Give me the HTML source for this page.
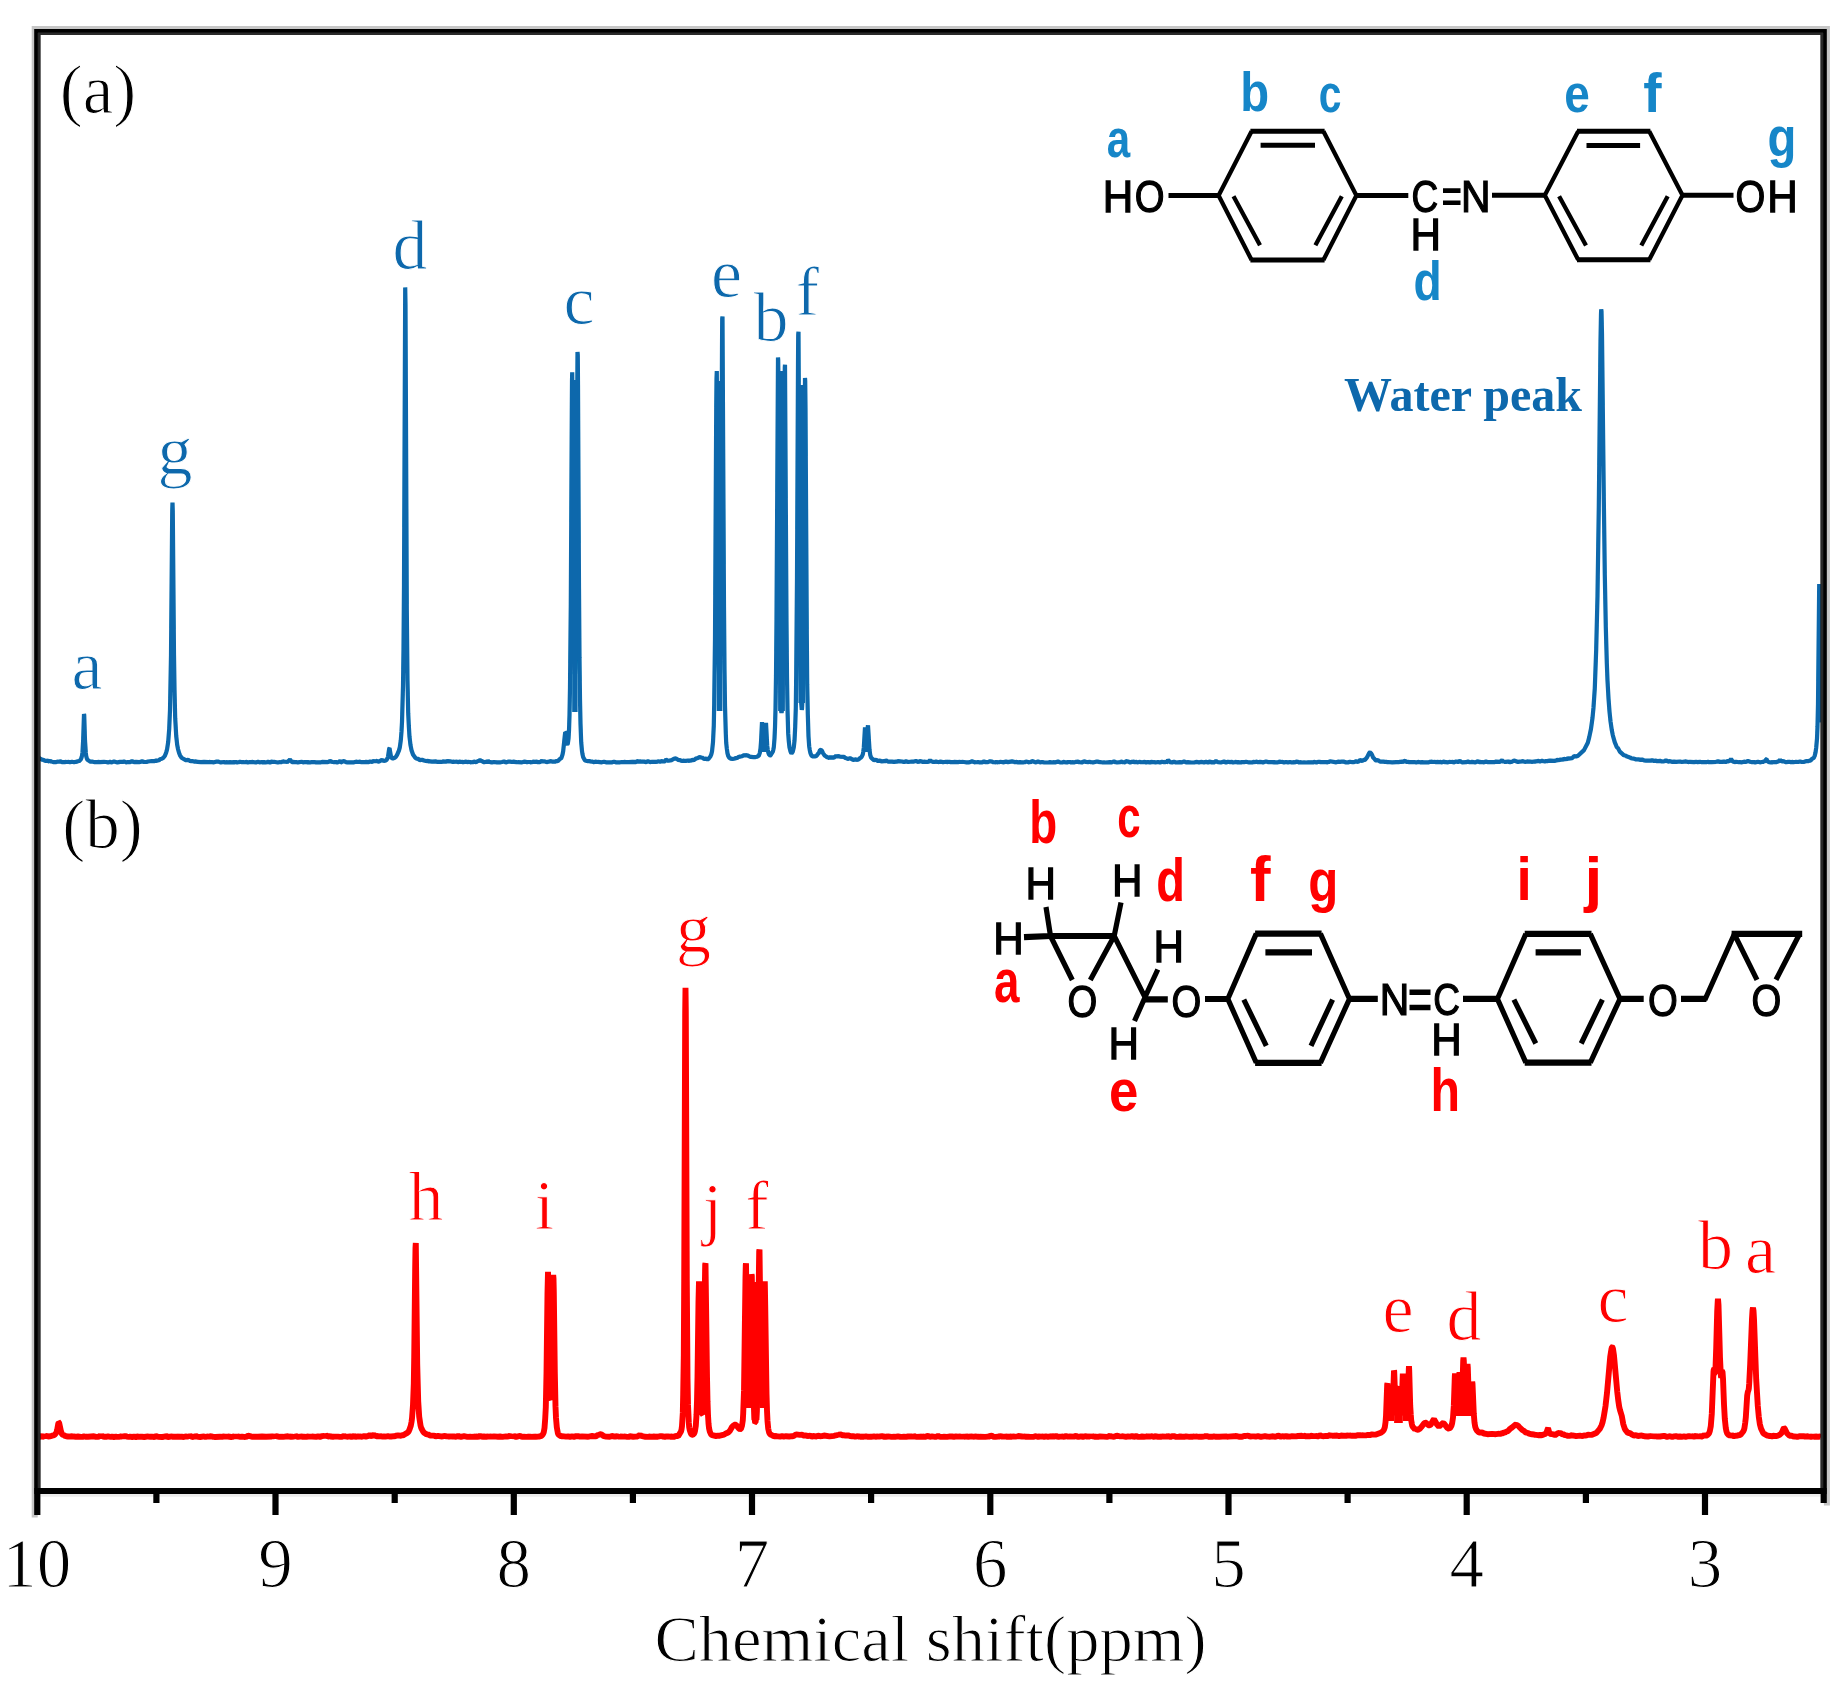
<!DOCTYPE html>
<html lang="en"><head><meta charset="utf-8"><title>1H NMR spectra</title>
<style>html,body{margin:0;padding:0;background:#fff}body{width:1847px;height:1689px;overflow:hidden}svg{display:block}.ser{font-family:"Liberation Serif",serif}.san{font-family:"Liberation Sans",sans-serif}</style></head><body>
<svg width="1847" height="1689" viewBox="0 0 1847 1689">
<rect width="1847" height="1689" fill="#fff"/>
<defs><filter id="soft" x="0" y="0" width="100%" height="100%" filterUnits="userSpaceOnUse"><feGaussianBlur stdDeviation="0.65"/></filter></defs>
<g filter="url(#soft)">
<path d="M38.0,756.5 L39.5,758.6 L40.0,758.5 L42.0,759.6 L44.0,760.0 L45.0,760.9 L46.0,760.7 L46.5,761.3 L48.0,760.2 L49.0,761.5 L49.2,761.6 L50.0,760.8 L51.5,761.9 L52.0,761.6 L53.2,762.1 L54.0,762.0 L56.2,762.2 L58.0,761.4 L58.8,762.3 L60.0,761.1 L62.0,762.2 L64.0,762.2 L64.5,762.4 L66.0,761.7 L67.0,762.4 L68.0,761.7 L70.0,762.3 L72.0,761.8 L74.0,762.2 L76.0,761.7 L76.8,761.9 L78.0,761.0 L79.0,761.3 L80.8,759.3 L81.5,757.7 L82.0,755.8 L82.5,752.2 L83.2,739.1 L84.0,714.0 L84.2,714.9 L85.0,740.5 L85.8,752.7 L86.2,756.1 L87.0,759.0 L87.5,759.8 L89.8,761.4 L90.2,761.6 L92.0,761.5 L94.8,762.2 L96.0,762.0 L97.0,762.3 L98.0,761.9 L100.0,762.1 L104.0,761.9 L106.0,762.0 L108.0,762.4 L110.0,761.8 L111.8,762.4 L114.0,761.4 L117.5,762.4 L120.0,761.9 L122.0,761.9 L122.5,762.3 L124.0,761.4 L126.0,762.3 L128.0,762.0 L129.5,762.3 L130.0,762.2 L132.0,761.1 L134.0,762.2 L136.0,761.9 L139.0,762.2 L142.0,761.4 L144.0,761.9 L146.5,762.0 L148.0,761.5 L152.0,761.0 L154.0,761.2 L156.0,760.6 L157.0,760.9 L158.0,760.2 L158.8,760.4 L160.0,759.2 L161.8,758.7 L163.2,757.9 L164.8,756.0 L166.2,752.4 L167.0,749.7 L168.2,741.9 L169.2,728.8 L170.0,710.1 L171.0,655.6 L172.2,512.6 L172.5,502.6 L172.8,512.5 L174.0,655.1 L174.5,689.0 L175.2,718.2 L176.2,735.8 L177.2,744.9 L178.0,749.0 L179.0,752.7 L180.0,755.3 L181.5,757.7 L186.2,760.4 L188.0,759.7 L190.5,761.3 L192.0,761.0 L194.0,761.6 L196.0,761.4 L197.5,761.9 L201.0,762.1 L204.0,761.9 L208.2,762.2 L210.0,761.9 L211.2,762.3 L212.0,762.1 L214.0,762.3 L216.0,761.7 L218.0,761.6 L220.8,762.4 L224.0,762.0 L225.2,762.4 L226.0,762.2 L228.2,762.4 L230.0,762.2 L231.8,762.4 L234.0,762.1 L235.0,762.4 L236.0,762.0 L237.2,762.4 L238.0,762.2 L238.5,762.4 L240.0,761.7 L242.0,762.2 L244.0,762.1 L244.8,762.4 L246.0,761.8 L247.8,762.5 L250.0,762.0 L251.0,762.4 L252.0,761.9 L255.8,762.5 L258.0,761.7 L259.5,762.4 L262.0,762.0 L263.0,762.5 L264.0,762.0 L265.2,762.4 L266.0,762.3 L266.5,762.5 L268.0,761.7 L270.0,762.5 L272.0,761.5 L273.2,762.4 L274.0,761.8 L277.8,762.5 L280.0,762.0 L280.8,762.5 L282.0,761.7 L284.0,761.3 L285.0,762.4 L286.0,761.3 L287.2,762.2 L290.0,759.5 L291.2,761.2 L292.2,762.1 L292.5,762.2 L294.0,761.7 L295.2,762.4 L296.0,761.9 L297.8,762.4 L302.0,761.7 L303.2,762.4 L304.0,762.2 L306.0,762.0 L307.0,762.4 L308.0,762.1 L309.0,762.4 L310.0,762.2 L310.8,762.4 L312.0,761.8 L313.2,762.4 L314.0,762.0 L316.0,762.4 L320.2,762.4 L322.0,761.9 L328.0,762.1 L328.8,761.8 L330.0,760.9 L331.2,761.6 L333.0,762.0 L334.0,762.2 L336.0,762.0 L337.2,762.4 L338.0,762.2 L340.0,761.0 L341.2,762.3 L341.5,762.3 L342.0,761.8 L344.0,761.1 L346.0,762.1 L347.5,762.4 L354.0,762.3 L356.0,761.7 L358.0,762.0 L360.0,761.7 L361.5,762.2 L364.0,762.1 L364.8,762.2 L366.0,761.9 L368.2,762.2 L370.0,761.5 L372.0,761.9 L374.0,760.7 L375.0,761.9 L376.0,760.8 L378.8,761.7 L382.0,759.9 L383.8,761.1 L385.8,760.5 L386.8,759.6 L387.5,758.3 L388.0,756.8 L389.2,748.5 L389.5,748.2 L390.8,755.6 L391.5,757.8 L391.8,758.1 L392.8,758.5 L395.2,757.5 L395.8,757.0 L397.2,754.6 L399.0,750.4 L399.8,747.4 L400.8,740.3 L401.5,731.4 L402.0,722.1 L403.0,686.3 L403.5,649.6 L404.0,584.8 L405.2,287.4 L405.5,304.7 L406.8,608.9 L407.5,680.7 L408.2,713.2 L408.8,725.5 L409.5,736.8 L410.5,745.2 L411.5,750.2 L413.0,754.5 L415.0,757.4 L416.2,758.5 L418.0,758.9 L420.0,760.1 L422.0,759.7 L424.0,760.5 L426.0,761.0 L426.5,761.4 L428.0,760.6 L429.5,761.7 L430.0,761.4 L432.0,761.6 L436.0,761.4 L437.5,762.0 L438.0,761.8 L438.8,762.1 L440.0,761.6 L441.2,762.1 L442.0,761.8 L442.5,762.1 L444.0,761.0 L445.2,762.2 L446.0,761.4 L448.0,761.2 L450.0,761.3 L452.0,761.8 L454.0,761.6 L454.8,762.3 L456.0,761.2 L457.8,762.3 L460.0,761.5 L461.0,762.3 L462.0,761.7 L463.2,762.3 L464.0,762.0 L466.0,761.6 L467.2,762.3 L468.0,761.9 L470.0,762.0 L471.2,762.4 L472.0,762.1 L472.5,762.4 L474.0,761.5 L476.0,762.2 L478.0,761.0 L478.8,760.9 L480.0,760.1 L481.2,760.9 L482.0,761.1 L484.2,762.3 L486.0,761.6 L486.8,762.3 L488.0,760.9 L489.5,762.3 L490.0,762.1 L492.0,762.3 L494.0,762.0 L497.0,762.4 L500.0,762.3 L502.0,762.0 L504.0,761.4 L505.8,762.4 L508.0,761.7 L510.0,761.7 L512.0,762.0 L514.0,761.4 L515.2,762.4 L516.0,761.9 L517.2,762.4 L518.0,762.1 L522.0,762.4 L524.0,761.6 L526.0,761.9 L527.0,762.3 L528.0,762.0 L530.0,762.0 L531.2,762.4 L532.0,762.1 L532.5,762.3 L534.0,761.3 L535.2,762.3 L536.0,761.6 L538.0,762.1 L540.0,762.2 L542.0,760.6 L543.2,762.2 L544.0,761.1 L546.5,762.2 L548.0,761.6 L548.8,762.1 L550.0,760.9 L552.0,761.6 L554.0,761.6 L554.8,761.7 L556.0,761.2 L557.5,761.1 L558.2,760.8 L560.0,758.9 L561.2,758.2 L561.5,757.6 L562.5,754.6 L563.2,751.0 L564.8,735.7 L565.2,732.3 L565.5,732.5 L565.8,733.7 L567.0,743.1 L567.2,743.9 L567.5,744.1 L567.8,743.8 L568.5,738.8 L569.0,730.6 L569.5,715.3 L570.0,687.8 L570.8,604.6 L571.8,412.6 L572.0,380.8 L572.2,372.3 L572.8,426.9 L574.0,635.4 L574.5,668.1 L574.8,674.1 L575.0,674.0 L575.2,667.9 L576.0,606.7 L577.5,351.9 L577.8,355.4 L578.0,384.7 L579.0,588.3 L579.5,657.9 L580.0,699.5 L580.5,723.6 L581.2,742.3 L582.0,751.1 L582.5,754.3 L583.2,757.2 L585.0,760.5 L588.0,761.2 L590.0,761.1 L591.0,762.0 L592.0,761.4 L593.5,762.1 L594.2,762.2 L596.0,761.4 L597.2,762.2 L598.0,761.8 L601.8,762.3 L604.0,761.7 L606.0,762.3 L612.2,762.3 L614.0,761.6 L615.8,762.3 L620.2,762.3 L622.0,762.0 L623.0,762.2 L624.0,761.9 L626.0,762.2 L628.0,762.1 L628.8,762.2 L632.0,761.8 L633.0,762.2 L634.0,761.7 L635.2,762.2 L638.0,761.0 L639.2,762.1 L640.0,761.3 L642.0,761.7 L644.0,761.6 L646.2,762.1 L648.0,761.2 L650.0,762.1 L652.0,761.7 L653.0,762.0 L654.0,761.7 L655.0,762.0 L656.0,761.7 L656.8,762.0 L658.0,761.3 L660.0,761.7 L662.0,761.0 L663.2,761.7 L664.0,761.3 L664.2,761.6 L664.5,761.5 L666.0,759.7 L668.0,760.8 L668.5,760.7 L671.8,760.1 L674.0,758.7 L675.0,758.4 L676.0,758.5 L678.0,759.8 L680.0,760.1 L681.5,760.9 L682.0,760.8 L682.5,761.0 L684.0,760.6 L685.2,761.1 L686.0,760.8 L688.0,760.5 L689.2,760.9 L690.0,760.5 L690.8,760.8 L692.0,759.9 L693.5,760.1 L694.2,759.9 L696.0,758.5 L698.0,757.9 L700.0,756.9 L701.0,757.7 L702.0,757.4 L704.2,759.0 L706.0,758.6 L707.5,759.5 L709.0,758.3 L710.2,756.8 L711.2,754.7 L712.0,751.6 L713.0,742.1 L713.8,725.4 L714.2,703.9 L715.0,639.1 L716.2,411.2 L716.5,379.4 L716.8,371.0 L717.2,426.1 L718.5,637.6 L719.2,679.9 L719.5,682.1 L719.8,679.0 L720.0,670.4 L720.8,603.9 L722.0,349.3 L722.2,318.8 L722.5,316.4 L724.0,607.2 L724.5,669.5 L725.0,705.9 L725.8,733.5 L726.2,742.8 L726.8,748.5 L727.5,753.4 L728.2,755.9 L729.2,757.6 L730.8,758.6 L732.5,759.0 L734.0,758.7 L734.5,758.8 L736.0,757.9 L737.0,758.2 L738.0,757.3 L740.0,756.6 L741.8,756.3 L744.0,755.2 L745.0,755.5 L746.0,755.1 L746.5,755.2 L748.0,755.6 L749.5,756.4 L751.0,756.9 L753.5,757.1 L755.0,757.1 L756.8,756.8 L758.8,755.7 L759.8,752.9 L760.5,748.7 L761.0,742.2 L762.0,722.0 L763.0,740.3 L763.2,743.6 L763.8,746.9 L764.0,747.1 L764.2,746.8 L764.8,743.7 L766.0,722.8 L767.2,745.7 L767.8,750.1 L768.5,753.3 L769.2,754.7 L770.2,755.5 L770.5,755.4 L772.8,751.7 L773.2,750.2 L773.8,747.3 L774.5,738.3 L775.0,727.4 L775.5,708.7 L776.0,675.9 L776.5,619.8 L778.0,357.4 L778.2,359.9 L778.5,387.8 L779.8,621.9 L780.2,672.8 L781.0,707.4 L781.2,711.5 L781.5,712.8 L781.8,711.5 L782.0,707.4 L782.5,689.5 L783.0,652.8 L783.5,588.0 L784.5,394.9 L784.8,367.3 L785.0,364.7 L786.5,621.4 L787.0,676.7 L787.5,708.9 L788.2,733.4 L788.8,741.3 L789.5,747.6 L790.5,751.5 L791.0,752.7 L791.5,753.4 L792.2,752.5 L792.8,751.6 L793.8,747.3 L794.5,740.8 L795.2,726.8 L795.8,707.9 L796.2,674.8 L797.0,577.5 L798.0,365.2 L798.2,335.0 L798.5,331.8 L800.0,606.7 L800.5,663.6 L801.2,702.8 L801.8,709.7 L802.0,708.8 L802.2,705.1 L802.8,687.3 L803.2,650.2 L805.0,377.9 L805.2,380.8 L805.5,407.9 L806.8,633.7 L807.2,684.4 L807.8,713.9 L808.5,736.3 L809.2,746.5 L809.8,750.2 L810.5,753.4 L811.5,755.5 L812.5,756.3 L814.8,756.4 L816.0,756.2 L817.0,755.2 L818.0,753.8 L818.8,753.3 L820.0,750.1 L820.8,749.8 L822.0,750.9 L823.0,753.1 L824.8,755.7 L826.0,756.3 L827.2,757.4 L828.0,757.2 L828.5,757.8 L828.8,757.8 L830.0,756.9 L831.2,757.9 L832.0,757.4 L834.0,757.6 L836.0,755.9 L837.2,756.9 L838.0,756.0 L839.8,756.6 L844.0,756.9 L845.5,758.2 L846.0,758.1 L847.8,758.9 L848.2,758.9 L850.0,758.1 L853.2,759.9 L856.0,759.4 L857.5,759.9 L858.0,759.7 L858.2,759.8 L860.0,758.1 L860.8,757.7 L861.5,757.0 L862.2,755.7 L862.8,754.4 L863.2,752.1 L863.8,747.7 L865.0,727.3 L865.2,728.4 L866.0,738.5 L866.2,740.3 L866.5,740.9 L867.0,738.1 L867.8,726.6 L868.0,725.3 L869.5,749.6 L870.2,754.8 L871.0,757.4 L872.8,759.2 L874.2,760.4 L876.0,759.6 L878.2,761.2 L880.0,760.4 L881.5,761.4 L884.0,761.1 L884.5,761.6 L886.0,760.4 L888.2,761.7 L890.0,761.5 L891.0,761.8 L892.0,761.6 L894.0,761.9 L896.0,761.6 L896.5,761.9 L898.0,761.2 L902.0,761.5 L903.8,762.0 L904.2,762.0 L906.0,761.3 L908.2,762.0 L912.0,761.5 L914.0,761.6 L916.0,761.0 L918.5,762.1 L920.0,761.1 L922.0,761.5 L923.0,762.1 L924.0,761.3 L925.5,762.1 L926.0,761.9 L927.0,762.0 L928.8,761.6 L930.0,760.2 L931.0,761.4 L932.0,761.3 L933.5,762.1 L934.0,761.9 L934.5,762.1 L936.0,761.3 L937.5,762.2 L938.0,761.9 L938.8,762.2 L940.0,761.6 L942.0,761.9 L943.0,762.3 L944.0,761.8 L944.8,762.3 L946.0,761.6 L947.0,762.2 L948.0,761.8 L950.0,761.8 L951.0,762.3 L952.0,761.9 L953.0,762.3 L954.0,761.9 L958.0,762.1 L960.0,761.7 L961.0,762.3 L962.0,761.7 L965.8,762.3 L968.5,762.3 L970.0,762.1 L972.0,761.3 L975.2,762.4 L976.0,762.1 L976.8,762.4 L978.0,761.9 L979.8,762.4 L982.2,762.4 L984.0,761.3 L985.8,762.3 L986.0,762.1 L988.0,762.1 L990.0,761.2 L992.0,761.6 L993.5,762.4 L994.0,762.1 L994.8,762.4 L996.0,762.0 L997.0,762.4 L998.0,762.1 L998.8,762.4 L1000.0,761.8 L1002.0,762.0 L1003.0,762.4 L1006.0,761.6 L1008.0,762.1 L1012.0,761.4 L1014.0,761.8 L1015.0,762.4 L1016.0,761.9 L1018.2,762.4 L1020.0,762.1 L1021.2,762.4 L1022.0,762.2 L1023.0,762.4 L1024.0,762.2 L1024.5,762.4 L1026.0,761.5 L1028.0,762.0 L1029.2,762.4 L1030.0,762.1 L1030.5,762.4 L1032.0,761.1 L1036.0,762.5 L1038.0,761.4 L1040.0,762.4 L1042.0,762.0 L1044.0,762.3 L1047.2,762.5 L1048.5,762.5 L1050.0,762.1 L1052.2,762.5 L1054.0,762.1 L1055.0,762.5 L1058.0,761.5 L1060.0,762.4 L1062.2,762.5 L1064.0,761.8 L1065.2,762.5 L1066.0,762.1 L1067.0,762.5 L1068.0,762.0 L1070.0,762.0 L1071.2,762.5 L1072.0,762.2 L1074.0,762.4 L1076.0,761.8 L1078.0,761.6 L1079.5,762.5 L1080.0,762.2 L1081.8,762.5 L1084.0,761.4 L1086.0,761.9 L1088.0,762.1 L1090.0,761.7 L1091.2,762.4 L1092.0,762.1 L1093.0,762.5 L1096.0,761.7 L1098.0,761.5 L1099.2,762.4 L1100.0,762.0 L1102.8,762.5 L1104.0,762.3 L1105.2,762.5 L1108.0,762.3 L1108.8,762.5 L1110.0,762.1 L1111.2,762.5 L1114.0,761.4 L1115.8,762.5 L1116.0,762.3 L1117.0,762.5 L1120.0,762.1 L1122.0,761.6 L1123.2,762.5 L1124.0,761.9 L1124.5,762.4 L1124.8,762.4 L1126.0,761.2 L1128.0,761.5 L1130.2,762.5 L1132.0,761.8 L1134.0,761.7 L1135.0,762.5 L1136.0,761.8 L1138.0,762.4 L1140.0,761.6 L1141.2,762.5 L1142.0,761.9 L1142.8,762.5 L1144.0,761.6 L1146.2,762.5 L1148.0,761.9 L1149.5,762.5 L1150.2,762.5 L1152.0,761.6 L1153.2,762.5 L1154.0,762.0 L1155.5,762.5 L1158.0,762.0 L1159.8,762.5 L1160.2,762.5 L1162.0,761.7 L1164.0,762.2 L1164.5,762.5 L1166.0,761.5 L1166.5,762.4 L1166.8,762.2 L1168.0,760.1 L1170.0,762.1 L1172.2,762.5 L1174.0,761.7 L1175.8,762.5 L1176.2,762.5 L1178.0,762.3 L1178.8,762.5 L1180.0,762.1 L1182.0,762.3 L1184.0,761.4 L1186.0,762.4 L1188.0,762.2 L1191.5,762.5 L1194.2,762.5 L1196.0,761.9 L1198.0,762.1 L1199.0,762.5 L1200.0,762.2 L1202.0,761.9 L1204.0,762.5 L1206.0,761.8 L1208.0,762.5 L1210.0,761.5 L1211.2,762.4 L1211.5,762.4 L1212.0,762.1 L1213.8,762.5 L1214.2,762.4 L1216.0,761.0 L1218.0,762.2 L1220.8,762.5 L1224.0,761.5 L1226.0,762.5 L1228.0,761.7 L1230.0,762.1 L1232.0,761.9 L1233.2,762.5 L1234.0,762.2 L1234.5,762.5 L1236.0,761.7 L1237.0,762.4 L1237.2,762.4 L1238.0,761.9 L1239.2,762.5 L1240.0,762.2 L1240.8,762.5 L1242.0,762.0 L1244.0,762.2 L1246.0,761.7 L1249.2,762.5 L1250.0,762.3 L1252.0,762.5 L1254.0,761.7 L1255.0,762.5 L1256.0,761.6 L1258.0,762.3 L1260.0,761.9 L1262.0,762.1 L1263.0,762.5 L1266.0,761.4 L1268.0,762.0 L1268.8,762.5 L1270.0,761.8 L1271.0,762.5 L1272.0,761.9 L1273.0,762.5 L1274.0,762.0 L1275.0,762.5 L1276.0,762.2 L1277.2,762.5 L1278.0,762.3 L1278.2,762.5 L1280.0,761.4 L1281.2,762.5 L1282.0,761.8 L1284.0,762.5 L1286.0,762.0 L1288.0,762.4 L1290.0,762.0 L1291.8,762.5 L1294.0,762.1 L1294.8,762.5 L1296.0,761.6 L1298.0,761.9 L1299.2,762.5 L1300.0,762.1 L1302.0,762.5 L1304.0,762.4 L1306.5,762.5 L1308.0,762.2 L1309.0,762.5 L1310.0,762.1 L1311.0,762.5 L1312.0,762.2 L1312.8,762.5 L1314.0,761.9 L1316.5,762.5 L1318.0,761.9 L1320.0,761.8 L1321.0,762.5 L1322.0,761.8 L1323.0,762.4 L1324.0,762.0 L1325.0,762.4 L1326.0,761.9 L1327.0,762.4 L1327.2,762.4 L1328.0,762.0 L1328.5,762.4 L1330.0,761.3 L1336.2,762.4 L1338.0,761.6 L1340.0,761.9 L1342.0,761.5 L1344.0,761.7 L1345.5,762.3 L1348.5,762.3 L1350.0,761.7 L1352.5,762.2 L1354.0,762.1 L1356.0,761.3 L1358.0,761.9 L1360.0,760.0 L1362.0,761.0 L1364.0,759.9 L1365.0,759.8 L1367.0,757.4 L1369.0,753.3 L1369.5,752.6 L1370.0,752.3 L1371.0,753.2 L1372.0,754.8 L1373.2,757.8 L1374.0,758.3 L1375.5,760.2 L1376.5,760.6 L1378.0,760.1 L1380.0,761.6 L1384.0,761.5 L1385.0,762.1 L1386.0,761.6 L1387.5,762.2 L1388.0,762.0 L1392.2,762.3 L1396.0,762.1 L1398.0,762.1 L1398.5,762.3 L1400.0,761.8 L1402.0,761.7 L1402.8,762.3 L1404.0,760.9 L1406.0,761.3 L1407.2,762.3 L1408.0,761.6 L1409.5,762.4 L1410.0,762.1 L1414.0,762.0 L1416.2,762.4 L1418.0,761.9 L1420.0,762.3 L1422.0,762.1 L1423.5,762.4 L1426.0,762.3 L1428.2,762.4 L1430.0,761.8 L1432.0,761.7 L1433.0,762.4 L1434.0,761.7 L1436.0,762.1 L1438.0,761.9 L1438.8,762.4 L1440.0,761.7 L1442.0,762.4 L1444.0,761.5 L1445.5,762.4 L1446.0,762.1 L1448.0,762.4 L1450.0,761.6 L1451.0,762.4 L1452.0,761.6 L1453.5,762.4 L1456.0,761.5 L1458.0,762.0 L1460.0,761.0 L1462.0,762.4 L1462.2,762.4 L1466.0,762.2 L1468.0,761.5 L1469.8,762.3 L1470.0,762.2 L1470.5,762.3 L1472.0,761.9 L1475.2,762.3 L1476.0,762.2 L1478.0,761.1 L1479.2,762.2 L1479.5,762.2 L1480.0,761.7 L1481.2,762.3 L1482.0,762.0 L1484.0,762.3 L1486.0,761.5 L1487.5,762.2 L1494.2,762.2 L1496.0,761.6 L1500.0,761.8 L1502.0,760.2 L1503.8,762.1 L1504.0,761.8 L1506.0,761.9 L1508.0,761.5 L1509.2,762.1 L1510.0,761.9 L1510.8,762.1 L1512.0,761.7 L1514.0,760.5 L1518.0,762.0 L1520.0,761.4 L1520.8,762.0 L1522.0,761.0 L1524.0,761.6 L1526.0,761.8 L1528.0,761.4 L1529.0,761.8 L1530.0,761.5 L1532.0,761.8 L1534.0,761.5 L1534.8,761.7 L1536.0,761.3 L1536.8,761.6 L1538.0,760.7 L1540.0,761.6 L1542.0,760.7 L1543.5,761.4 L1544.0,761.2 L1544.8,761.4 L1546.0,761.0 L1547.0,761.3 L1548.0,760.8 L1550.0,760.6 L1554.0,760.9 L1556.0,760.6 L1556.2,760.7 L1558.0,759.6 L1559.0,760.3 L1559.2,760.4 L1560.0,759.7 L1562.0,759.5 L1562.8,760.0 L1564.0,758.8 L1566.0,759.2 L1566.5,759.5 L1568.0,758.0 L1569.5,758.8 L1570.0,758.4 L1572.2,758.1 L1574.0,756.2 L1576.0,756.5 L1578.0,755.7 L1584.0,750.1 L1587.8,742.7 L1589.2,737.4 L1591.0,728.8 L1592.5,717.9 L1593.5,707.5 L1594.8,688.1 L1596.2,649.3 L1597.5,595.8 L1598.8,507.1 L1600.5,341.1 L1601.0,313.9 L1601.2,309.3 L1601.5,311.4 L1602.0,334.3 L1603.8,498.0 L1604.8,574.6 L1605.8,626.9 L1606.8,662.6 L1607.5,680.6 L1608.5,698.4 L1609.5,711.6 L1610.5,721.3 L1611.8,730.2 L1612.8,735.2 L1614.8,742.4 L1616.0,745.1 L1616.5,746.6 L1617.0,747.3 L1618.0,748.1 L1619.8,751.6 L1624.0,755.3 L1626.0,755.8 L1627.0,756.8 L1628.0,756.6 L1629.0,757.6 L1630.0,757.3 L1631.2,758.4 L1632.0,758.2 L1633.0,758.8 L1634.0,758.6 L1635.2,759.3 L1636.0,759.2 L1636.5,759.5 L1638.0,759.3 L1640.0,759.6 L1640.8,760.1 L1642.0,759.4 L1644.0,760.4 L1646.0,760.6 L1648.0,760.7 L1650.0,760.5 L1650.5,761.0 L1652.0,760.0 L1654.0,761.1 L1656.0,760.4 L1657.5,761.4 L1658.0,761.1 L1660.0,760.8 L1661.8,761.5 L1664.0,761.3 L1664.5,761.5 L1666.0,760.2 L1668.0,761.6 L1670.0,761.1 L1671.8,761.8 L1674.0,761.7 L1676.2,761.9 L1680.0,761.5 L1681.8,762.0 L1686.0,761.4 L1688.2,762.1 L1690.0,761.8 L1694.0,762.1 L1696.0,761.8 L1697.5,762.1 L1700.0,761.8 L1701.8,762.2 L1706.2,762.2 L1708.0,761.7 L1709.2,762.2 L1710.0,762.0 L1711.5,762.2 L1716.0,761.8 L1718.0,761.4 L1720.0,761.9 L1722.0,761.9 L1722.5,762.2 L1724.0,761.4 L1725.5,762.2 L1728.0,760.8 L1729.5,761.6 L1731.0,758.8 L1732.2,760.9 L1733.5,761.8 L1734.5,762.1 L1736.0,761.7 L1739.0,762.3 L1740.0,762.1 L1742.0,762.3 L1744.0,761.7 L1746.0,762.0 L1748.0,760.9 L1750.0,761.8 L1752.0,762.2 L1754.0,762.0 L1755.2,762.4 L1758.0,761.8 L1759.8,762.3 L1762.0,762.0 L1762.5,762.3 L1764.0,761.3 L1764.8,761.2 L1765.2,760.9 L1766.2,759.2 L1766.5,759.1 L1767.2,760.7 L1768.0,761.6 L1769.0,762.1 L1771.0,762.3 L1772.0,762.2 L1772.8,762.3 L1774.0,762.1 L1776.0,762.2 L1778.0,761.5 L1778.8,761.8 L1780.0,759.3 L1781.0,761.6 L1782.0,761.1 L1784.0,761.4 L1786.0,762.3 L1788.0,761.9 L1790.0,761.9 L1791.0,762.3 L1792.0,761.8 L1793.5,762.2 L1796.0,761.8 L1798.0,762.0 L1800.0,761.5 L1802.0,762.0 L1804.2,761.8 L1806.0,761.2 L1808.0,761.2 L1810.0,760.6 L1810.5,760.6 L1812.0,758.8 L1813.0,758.3 L1813.8,757.7 L1814.2,756.9 L1814.8,755.6 L1815.5,752.6 L1816.2,747.7 L1817.0,738.6 L1817.5,726.7 L1818.0,704.3 L1819.2,584.0 L1819.5,591.9 L1820.5,697.5 L1821.0,722.4" fill="none" stroke="#0868ac" stroke-width="4.2" stroke-linejoin="bevel"/>
<path d="M38.0,1436.7 L40.0,1436.9 L42.0,1435.8 L43.0,1436.7 L43.2,1436.7 L44.0,1436.0 L45.0,1436.8 L46.0,1435.9 L49.2,1436.6 L50.0,1436.3 L50.8,1436.4 L52.0,1435.6 L53.5,1435.3 L54.5,1434.8 L55.8,1433.5 L56.8,1431.5 L57.2,1429.8 L58.2,1424.1 L58.8,1422.4 L59.0,1422.5 L59.2,1423.2 L60.8,1430.6 L62.0,1434.2 L62.8,1434.8 L64.0,1435.2 L65.2,1436.1 L66.0,1436.1 L67.0,1436.5 L68.0,1436.3 L70.0,1436.7 L72.0,1436.2 L73.2,1436.8 L74.0,1436.5 L76.0,1436.9 L78.0,1436.5 L80.8,1436.9 L82.5,1436.9 L84.0,1436.4 L86.0,1436.8 L88.0,1436.8 L94.0,1436.3 L96.0,1436.9 L98.2,1436.9 L100.0,1435.9 L101.0,1436.9 L102.0,1435.8 L104.0,1436.9 L106.0,1436.8 L108.0,1436.3 L110.8,1437.0 L112.0,1436.6 L114.0,1437.0 L116.0,1436.7 L117.2,1437.0 L118.0,1436.8 L118.5,1437.0 L120.0,1436.6 L120.5,1436.9 L122.0,1436.0 L123.0,1436.9 L124.0,1436.1 L126.0,1436.2 L127.5,1436.9 L128.0,1436.8 L128.8,1437.0 L130.0,1436.7 L132.2,1437.0 L134.0,1436.6 L135.8,1437.0 L138.0,1436.5 L139.5,1437.0 L140.0,1436.8 L142.0,1436.8 L144.2,1437.0 L148.0,1436.3 L149.2,1436.9 L150.0,1436.7 L151.0,1437.0 L152.0,1436.7 L154.2,1437.0 L156.0,1436.1 L158.0,1436.8 L162.2,1437.0 L164.0,1436.8 L164.2,1437.0 L166.0,1436.0 L168.0,1437.0 L172.0,1436.3 L173.5,1437.0 L174.0,1436.7 L176.0,1436.6 L177.0,1437.0 L178.0,1436.7 L179.0,1436.9 L180.0,1436.6 L181.2,1436.9 L182.0,1436.8 L183.8,1437.0 L186.0,1436.4 L186.8,1436.9 L188.0,1436.2 L188.8,1437.0 L190.0,1435.7 L192.2,1437.0 L194.0,1436.6 L194.5,1437.0 L196.0,1436.0 L198.0,1436.9 L200.2,1437.0 L204.0,1436.4 L205.5,1437.0 L208.0,1436.3 L209.0,1437.0 L210.0,1436.3 L212.0,1436.4 L213.5,1437.0 L214.0,1436.8 L215.2,1437.0 L220.0,1436.7 L222.0,1436.9 L224.0,1436.3 L225.0,1436.9 L226.0,1436.1 L227.2,1437.0 L228.0,1436.5 L231.2,1437.0 L232.5,1436.9 L234.0,1436.4 L234.8,1436.9 L236.0,1435.8 L237.2,1436.9 L238.0,1436.4 L240.5,1437.0 L242.0,1436.4 L243.5,1437.0 L244.0,1436.8 L245.2,1437.0 L246.0,1436.8 L246.2,1437.0 L248.0,1435.7 L250.0,1436.1 L252.8,1437.0 L254.0,1436.6 L258.0,1436.8 L262.0,1436.5 L266.0,1436.8 L272.0,1436.5 L272.5,1436.9 L274.0,1435.7 L275.2,1437.0 L276.0,1436.2 L278.0,1436.5 L279.5,1436.9 L280.0,1436.8 L281.0,1436.9 L282.0,1436.8 L283.0,1436.9 L288.0,1436.3 L290.0,1436.6 L290.8,1436.9 L292.0,1436.5 L293.0,1436.9 L294.0,1436.4 L294.8,1437.0 L296.0,1436.1 L298.0,1436.9 L302.0,1436.4 L303.2,1437.0 L304.0,1436.7 L306.2,1436.9 L308.0,1436.5 L308.8,1436.9 L310.0,1436.2 L311.2,1437.0 L312.0,1436.5 L316.2,1436.9 L318.0,1436.3 L320.0,1436.8 L322.0,1436.2 L324.0,1435.9 L324.8,1436.9 L326.0,1435.3 L328.0,1436.5 L330.0,1436.1 L331.5,1436.9 L332.0,1436.7 L332.8,1436.9 L334.0,1436.6 L338.0,1436.6 L340.0,1436.9 L342.0,1436.8 L344.0,1435.9 L345.5,1436.9 L346.0,1436.6 L348.0,1436.7 L350.0,1436.4 L351.5,1436.9 L352.2,1436.9 L354.0,1436.0 L355.5,1436.9 L358.0,1436.3 L359.2,1436.8 L360.0,1436.4 L361.2,1436.8 L364.0,1436.2 L365.8,1436.7 L368.5,1435.9 L370.0,1434.7 L371.2,1435.9 L372.0,1436.2 L374.0,1434.7 L376.0,1436.3 L378.0,1436.0 L378.8,1436.7 L379.0,1436.6 L380.0,1435.8 L381.8,1436.7 L384.0,1436.3 L385.5,1436.6 L388.0,1436.2 L389.2,1436.5 L390.0,1436.4 L391.2,1436.5 L394.0,1436.1 L394.8,1436.3 L396.0,1435.7 L398.0,1435.4 L400.8,1435.7 L402.0,1435.3 L403.0,1435.3 L405.0,1434.2 L406.8,1433.2 L408.5,1431.7 L409.5,1429.5 L410.8,1425.7 L411.5,1422.0 L412.0,1418.4 L413.0,1405.0 L413.8,1383.6 L414.2,1357.9 L415.2,1266.6 L415.5,1248.0 L415.8,1243.0 L417.2,1363.9 L418.2,1401.3 L419.2,1416.7 L420.5,1425.4 L421.0,1427.4 L421.8,1429.2 L423.0,1431.4 L424.2,1432.9 L426.0,1433.8 L426.8,1434.7 L428.0,1434.3 L430.0,1435.5 L434.0,1435.6 L435.5,1436.3 L438.0,1435.8 L442.2,1436.6 L444.0,1435.9 L446.0,1436.2 L447.0,1436.6 L448.0,1436.2 L449.2,1436.7 L450.0,1436.4 L452.0,1436.4 L452.8,1436.8 L454.0,1436.3 L456.0,1436.8 L458.0,1435.9 L459.8,1436.8 L460.0,1436.7 L461.2,1436.8 L464.0,1436.2 L467.5,1436.9 L470.0,1436.6 L471.2,1436.9 L474.0,1436.6 L474.8,1436.9 L476.0,1436.5 L478.2,1436.9 L480.0,1435.8 L482.2,1436.9 L484.0,1436.5 L486.2,1436.9 L488.0,1436.3 L489.0,1436.9 L490.0,1436.4 L492.0,1436.7 L494.0,1436.4 L498.0,1436.7 L500.0,1436.5 L502.5,1436.9 L506.0,1436.4 L508.0,1436.7 L510.0,1435.7 L511.2,1436.8 L512.0,1436.0 L513.0,1436.9 L514.0,1436.1 L516.0,1436.9 L518.0,1436.3 L520.0,1435.9 L522.0,1436.9 L524.0,1436.8 L526.5,1436.9 L528.0,1436.7 L529.0,1436.9 L530.0,1436.6 L531.2,1436.9 L534.0,1436.6 L535.2,1436.9 L536.0,1436.7 L538.8,1436.6 L541.5,1435.8 L542.5,1434.9 L543.2,1433.6 L543.8,1432.1 L544.5,1428.0 L545.2,1418.8 L545.8,1407.1 L546.5,1373.4 L547.5,1292.6 L548.0,1271.9 L548.5,1291.4 L549.5,1368.5 L550.2,1396.0 L550.5,1399.1 L550.8,1399.5 L551.0,1397.2 L551.5,1384.1 L553.0,1282.0 L553.2,1274.9 L553.5,1278.5 L553.8,1291.8 L554.8,1371.7 L555.5,1406.4 L556.0,1418.0 L556.8,1427.3 L557.8,1432.8 L558.2,1434.1 L558.8,1434.8 L561.0,1436.3 L562.0,1436.1 L566.0,1436.6 L568.0,1436.4 L570.0,1436.9 L572.0,1436.4 L574.0,1436.8 L576.0,1436.2 L578.0,1436.1 L580.0,1436.6 L582.0,1436.4 L588.0,1436.7 L588.5,1436.8 L590.0,1436.3 L592.0,1436.0 L595.2,1436.4 L596.5,1436.1 L598.0,1434.8 L599.0,1435.1 L600.0,1434.2 L600.2,1434.2 L602.0,1434.6 L603.8,1436.2 L606.0,1436.6 L609.8,1436.8 L612.0,1436.0 L614.0,1436.3 L615.0,1436.9 L616.0,1436.3 L618.0,1436.4 L619.2,1436.9 L620.0,1436.5 L620.5,1436.9 L622.0,1435.9 L623.2,1436.9 L624.0,1436.4 L627.2,1436.9 L628.5,1436.9 L630.0,1436.3 L633.2,1436.7 L636.0,1436.6 L636.5,1436.7 L638.8,1435.8 L640.0,1434.6 L640.8,1435.6 L641.2,1435.9 L645.5,1436.8 L648.0,1436.9 L650.0,1436.5 L651.2,1436.9 L654.0,1436.5 L655.0,1436.9 L656.0,1436.6 L657.0,1436.9 L658.0,1436.5 L658.8,1436.8 L660.0,1436.1 L662.0,1436.1 L663.5,1436.9 L664.0,1436.6 L664.8,1436.9 L666.0,1436.5 L668.0,1436.4 L670.0,1436.7 L672.0,1436.5 L673.2,1436.8 L674.5,1436.7 L676.0,1435.9 L678.2,1436.1 L681.0,1431.5 L681.5,1429.6 L682.0,1426.0 L682.8,1412.9 L683.2,1393.7 L683.8,1355.4 L684.2,1279.6 L685.2,1011.6 L685.5,987.8 L685.8,1011.6 L686.8,1280.1 L687.5,1378.2 L688.0,1404.9 L688.8,1422.4 L689.2,1427.5 L689.8,1430.4 L690.8,1433.4 L691.2,1434.1 L692.0,1434.8 L692.8,1434.8 L693.8,1433.9 L694.5,1432.7 L695.0,1430.9 L695.8,1425.8 L696.5,1415.0 L697.0,1401.0 L697.5,1377.2 L698.5,1301.1 L699.0,1281.3 L699.5,1299.9 L700.2,1358.4 L701.0,1397.5 L701.8,1412.5 L702.0,1413.9 L702.2,1414.0 L702.8,1410.1 L703.2,1399.0 L703.8,1377.4 L705.0,1276.5 L705.2,1264.4 L705.5,1263.2 L707.0,1376.7 L707.5,1401.2 L708.0,1415.1 L708.5,1423.4 L709.0,1428.0 L709.8,1431.6 L710.8,1433.9 L712.0,1435.2 L716.0,1436.0 L718.0,1435.7 L719.8,1435.7 L724.0,1434.7 L726.0,1433.3 L728.0,1432.7 L730.0,1430.6 L732.0,1427.0 L733.2,1425.7 L734.8,1424.7 L735.2,1424.6 L736.0,1424.9 L739.0,1428.6 L740.0,1429.3 L740.8,1428.9 L741.2,1428.1 L742.0,1425.6 L742.8,1420.4 L743.2,1413.3 L744.0,1390.9 L745.5,1276.9 L745.8,1264.7 L746.0,1263.3 L747.5,1371.7 L748.2,1398.7 L748.5,1402.2 L748.8,1403.5 L749.0,1402.7 L749.8,1386.1 L751.5,1274.3 L751.8,1275.7 L752.0,1287.0 L753.0,1366.5 L753.5,1393.3 L754.0,1408.9 L754.5,1417.9 L755.0,1421.8 L755.2,1422.3 L755.5,1422.2 L756.2,1418.1 L756.8,1411.0 L757.5,1387.1 L759.0,1264.6 L759.2,1251.2 L759.5,1249.5 L761.0,1365.9 L761.8,1394.1 L762.0,1397.0 L762.2,1397.2 L762.5,1394.5 L763.0,1380.3 L764.2,1295.8 L764.5,1283.9 L764.8,1281.3 L765.2,1304.6 L766.5,1393.1 L767.0,1410.7 L767.5,1420.9 L768.2,1428.6 L768.8,1431.2 L769.2,1432.7 L769.8,1433.7 L770.5,1434.5 L772.0,1435.2 L773.8,1436.3 L776.0,1436.0 L777.2,1436.5 L778.0,1436.3 L780.2,1436.6 L782.0,1436.1 L783.8,1436.6 L786.0,1436.2 L789.2,1436.5 L792.0,1436.1 L792.8,1436.2 L794.0,1435.7 L796.0,1434.4 L799.8,1434.9 L802.0,1434.8 L804.2,1435.7 L806.0,1435.4 L807.5,1436.2 L810.0,1435.7 L811.8,1436.5 L814.0,1436.0 L815.5,1436.6 L818.0,1435.7 L820.0,1436.2 L822.0,1436.1 L824.0,1435.5 L829.5,1436.4 L834.2,1435.9 L836.0,1435.1 L837.0,1435.3 L838.0,1434.7 L838.8,1435.0 L840.0,1434.1 L842.5,1435.2 L844.0,1435.3 L844.8,1435.7 L846.0,1435.5 L846.5,1436.0 L848.0,1435.2 L850.0,1436.0 L852.0,1436.2 L853.0,1436.5 L854.0,1436.2 L855.2,1436.7 L856.0,1436.4 L856.5,1436.7 L858.0,1436.0 L859.5,1436.8 L860.0,1436.5 L861.0,1436.8 L862.0,1436.5 L863.0,1436.8 L864.0,1436.5 L864.8,1436.8 L866.0,1436.3 L867.5,1436.8 L868.8,1436.8 L870.0,1436.6 L871.0,1436.9 L874.0,1436.3 L876.5,1436.8 L878.0,1436.3 L879.0,1436.9 L880.0,1436.4 L882.0,1436.1 L884.5,1436.9 L886.0,1436.5 L887.0,1436.8 L888.0,1436.4 L891.5,1436.9 L894.0,1436.8 L895.0,1436.9 L898.0,1436.3 L900.5,1436.9 L902.2,1436.9 L904.0,1436.6 L906.0,1436.9 L908.0,1436.5 L912.0,1436.4 L912.8,1436.9 L914.0,1436.0 L916.0,1436.9 L920.0,1436.6 L921.0,1436.9 L922.0,1436.5 L923.2,1436.9 L924.0,1436.6 L925.0,1436.9 L928.0,1435.9 L930.0,1436.8 L932.0,1436.4 L935.0,1436.9 L936.0,1436.8 L938.0,1435.8 L939.5,1436.8 L940.0,1436.7 L942.5,1436.9 L944.0,1436.8 L947.2,1436.9 L950.0,1436.4 L952.0,1436.5 L954.0,1436.9 L956.0,1436.4 L958.0,1436.6 L960.0,1436.3 L961.0,1436.9 L962.0,1436.4 L962.8,1436.9 L964.0,1436.2 L964.8,1436.8 L965.0,1436.8 L966.0,1436.0 L967.5,1436.9 L968.0,1436.7 L972.0,1436.4 L973.2,1436.9 L974.0,1436.6 L976.0,1436.4 L977.0,1436.9 L978.0,1436.5 L979.5,1436.9 L980.0,1436.8 L985.2,1436.9 L988.0,1436.6 L988.5,1436.9 L990.0,1436.0 L992.0,1435.8 L993.8,1436.9 L995.5,1436.9 L998.0,1436.6 L998.5,1436.9 L1000.0,1436.1 L1002.0,1436.4 L1002.8,1436.9 L1004.0,1436.2 L1005.0,1436.9 L1006.0,1436.3 L1007.5,1436.9 L1008.0,1436.8 L1008.8,1436.9 L1010.0,1436.5 L1012.0,1436.7 L1014.0,1436.3 L1015.0,1436.9 L1016.0,1436.3 L1016.8,1436.9 L1018.0,1436.0 L1022.0,1436.5 L1022.8,1436.9 L1024.0,1436.4 L1026.0,1436.8 L1028.0,1436.6 L1030.2,1436.9 L1034.0,1436.7 L1036.0,1436.2 L1038.2,1436.9 L1040.0,1436.2 L1041.0,1436.9 L1042.0,1436.4 L1044.2,1436.9 L1046.0,1436.4 L1048.0,1436.8 L1050.0,1436.4 L1050.8,1436.8 L1052.0,1435.9 L1053.8,1436.9 L1056.0,1435.9 L1057.8,1436.9 L1058.0,1436.8 L1058.5,1436.9 L1060.0,1436.5 L1060.8,1436.9 L1062.0,1436.3 L1064.2,1436.9 L1066.0,1436.0 L1068.0,1436.7 L1070.0,1436.4 L1074.0,1436.6 L1076.0,1435.9 L1077.8,1436.9 L1078.5,1436.9 L1080.0,1436.5 L1082.0,1436.5 L1083.0,1436.9 L1086.0,1436.0 L1087.5,1436.9 L1088.0,1436.6 L1088.5,1436.9 L1090.0,1436.0 L1091.0,1436.9 L1092.0,1435.9 L1093.5,1436.9 L1094.0,1436.6 L1095.0,1436.9 L1096.0,1436.6 L1098.0,1436.9 L1100.0,1436.4 L1107.0,1436.9 L1108.0,1436.7 L1110.0,1435.7 L1111.5,1436.9 L1112.0,1436.6 L1114.0,1436.8 L1116.0,1436.0 L1118.0,1435.6 L1119.2,1436.9 L1120.0,1436.2 L1121.0,1436.9 L1122.0,1436.2 L1126.0,1436.9 L1128.0,1436.4 L1130.0,1436.7 L1132.0,1436.0 L1133.8,1436.9 L1136.0,1436.0 L1137.8,1436.8 L1140.2,1436.9 L1142.0,1436.5 L1144.0,1436.7 L1146.0,1436.6 L1146.5,1436.9 L1148.0,1436.0 L1149.5,1436.9 L1150.0,1436.6 L1152.0,1436.2 L1153.5,1436.8 L1154.2,1436.9 L1156.0,1436.0 L1157.5,1436.8 L1160.0,1436.7 L1160.8,1436.8 L1162.0,1436.5 L1166.0,1436.6 L1166.5,1436.9 L1168.0,1436.1 L1170.5,1436.9 L1172.0,1436.3 L1174.0,1436.2 L1176.0,1436.8 L1178.0,1436.9 L1180.0,1436.5 L1181.5,1436.8 L1182.0,1436.7 L1184.2,1436.8 L1186.0,1436.3 L1189.5,1436.8 L1192.2,1436.8 L1194.0,1436.4 L1195.0,1436.8 L1196.0,1436.4 L1199.0,1436.8 L1200.0,1436.6 L1201.5,1436.8 L1204.0,1436.6 L1204.5,1436.7 L1206.0,1435.6 L1207.8,1436.8 L1208.0,1436.6 L1209.0,1436.8 L1210.0,1436.6 L1212.8,1436.8 L1214.0,1436.4 L1216.0,1436.8 L1218.0,1436.7 L1219.2,1436.8 L1226.0,1436.4 L1227.2,1436.8 L1228.0,1436.6 L1234.0,1436.3 L1236.0,1435.9 L1237.5,1436.8 L1238.0,1436.5 L1239.8,1436.8 L1242.0,1436.7 L1244.0,1435.9 L1246.0,1436.0 L1248.0,1435.5 L1250.2,1436.7 L1252.0,1436.4 L1254.0,1436.4 L1255.8,1436.7 L1258.0,1436.2 L1260.0,1436.7 L1262.0,1436.7 L1264.0,1436.3 L1266.0,1436.3 L1267.5,1436.7 L1268.0,1436.6 L1270.2,1436.7 L1272.0,1436.3 L1275.5,1436.7 L1276.0,1436.6 L1278.0,1435.6 L1280.8,1436.6 L1282.0,1436.2 L1284.0,1436.5 L1286.0,1436.1 L1287.5,1436.6 L1288.0,1436.4 L1289.8,1436.6 L1292.0,1436.2 L1296.0,1436.4 L1298.0,1436.0 L1302.0,1435.8 L1303.0,1436.5 L1304.0,1435.7 L1306.0,1436.3 L1310.0,1436.3 L1312.0,1435.6 L1313.0,1436.4 L1314.0,1435.8 L1315.0,1436.3 L1316.0,1435.9 L1317.8,1436.4 L1318.2,1436.3 L1320.0,1435.2 L1322.0,1436.1 L1324.0,1436.2 L1326.0,1435.8 L1327.2,1436.2 L1330.0,1435.1 L1331.5,1436.2 L1332.0,1435.8 L1334.0,1435.8 L1334.8,1436.1 L1336.0,1435.3 L1339.2,1436.1 L1342.0,1435.4 L1343.2,1436.0 L1344.0,1435.7 L1346.0,1435.9 L1348.0,1435.2 L1349.2,1435.9 L1350.0,1435.5 L1352.0,1435.8 L1356.2,1435.7 L1358.0,1435.2 L1360.0,1435.2 L1361.2,1435.5 L1362.0,1435.2 L1364.0,1435.4 L1366.5,1435.3 L1368.0,1434.8 L1369.8,1435.1 L1372.0,1434.4 L1374.0,1434.6 L1376.0,1434.5 L1380.8,1432.7 L1382.8,1431.4 L1384.0,1429.6 L1384.8,1427.3 L1385.5,1422.4 L1386.0,1416.1 L1387.2,1384.4 L1387.5,1383.4 L1388.5,1406.9 L1388.8,1410.8 L1389.2,1414.4 L1389.5,1414.4 L1389.8,1413.2 L1390.0,1410.8 L1391.0,1394.3 L1391.2,1395.9 L1392.0,1406.4 L1392.2,1407.3 L1392.5,1406.6 L1393.0,1399.6 L1394.0,1370.5 L1394.2,1371.3 L1395.5,1407.1 L1395.8,1410.5 L1396.2,1413.6 L1396.5,1413.7 L1396.8,1412.9 L1397.0,1411.1 L1398.2,1387.5 L1398.5,1387.2 L1399.8,1410.9 L1400.2,1414.0 L1400.5,1414.3 L1400.8,1413.7 L1401.0,1412.3 L1401.8,1400.9 L1402.8,1373.7 L1403.0,1375.4 L1403.8,1396.7 L1404.2,1404.5 L1404.5,1405.7 L1404.8,1405.1 L1405.8,1391.3 L1406.0,1392.4 L1406.8,1404.7 L1407.0,1406.4 L1407.2,1406.1 L1407.8,1400.4 L1408.8,1369.3 L1409.0,1366.2 L1409.2,1370.1 L1410.2,1405.5 L1410.8,1414.9 L1411.2,1420.3 L1411.8,1423.6 L1412.2,1425.6 L1413.0,1427.2 L1414.0,1428.2 L1415.0,1429.7 L1416.0,1429.0 L1417.2,1429.7 L1417.8,1429.8 L1420.0,1428.6 L1421.2,1427.2 L1424.0,1423.4 L1425.2,1422.6 L1426.0,1422.7 L1428.2,1425.1 L1429.0,1425.4 L1429.8,1425.4 L1430.8,1424.5 L1433.5,1419.8 L1434.0,1419.2 L1437.0,1424.5 L1439.0,1426.6 L1440.0,1425.6 L1441.2,1424.7 L1442.0,1423.8 L1442.8,1423.2 L1443.2,1423.0 L1444.0,1423.6 L1447.0,1427.6 L1448.2,1428.5 L1449.2,1428.7 L1450.5,1427.5 L1451.5,1425.6 L1452.2,1422.9 L1453.0,1417.6 L1453.8,1405.9 L1454.8,1376.6 L1455.0,1373.5 L1455.2,1375.8 L1456.2,1401.6 L1457.0,1409.4 L1457.2,1409.9 L1457.5,1409.4 L1458.0,1405.3 L1459.2,1375.2 L1459.5,1372.4 L1459.8,1374.6 L1460.8,1398.0 L1461.0,1400.9 L1461.2,1402.3 L1461.5,1402.4 L1462.0,1398.1 L1462.2,1393.4 L1463.2,1361.0 L1463.5,1357.6 L1463.8,1360.6 L1464.8,1392.3 L1465.2,1399.6 L1465.5,1400.8 L1465.8,1400.4 L1466.2,1394.7 L1467.2,1366.6 L1467.5,1364.0 L1467.8,1367.4 L1468.8,1399.1 L1469.5,1409.9 L1469.8,1411.3 L1470.0,1411.8 L1470.2,1411.8 L1470.8,1409.1 L1472.2,1381.7 L1472.5,1383.6 L1473.8,1414.1 L1474.5,1422.5 L1475.2,1426.7 L1476.0,1429.0 L1477.0,1430.7 L1478.5,1432.1 L1480.0,1432.6 L1482.0,1432.5 L1484.0,1433.5 L1487.5,1434.2 L1492.0,1433.9 L1495.8,1434.2 L1498.0,1433.8 L1499.2,1433.9 L1500.8,1433.7 L1502.0,1433.3 L1502.8,1433.2 L1504.0,1432.4 L1505.0,1432.5 L1506.0,1431.8 L1507.8,1431.2 L1510.0,1428.9 L1512.0,1427.5 L1515.0,1425.0 L1516.0,1424.5 L1517.2,1425.4 L1518.0,1425.5 L1519.2,1427.0 L1522.5,1430.2 L1524.0,1430.9 L1525.5,1432.3 L1528.0,1433.0 L1529.2,1433.8 L1530.0,1433.8 L1532.0,1434.3 L1534.0,1434.5 L1535.2,1434.9 L1536.0,1434.9 L1538.0,1435.2 L1540.0,1435.0 L1541.8,1435.3 L1545.0,1434.1 L1545.8,1433.5 L1546.5,1432.4 L1547.8,1428.8 L1548.0,1428.5 L1548.2,1428.9 L1549.2,1432.4 L1550.0,1433.7 L1550.8,1434.1 L1552.0,1434.0 L1555.0,1435.1 L1556.2,1434.4 L1558.0,1433.0 L1559.5,1433.2 L1560.0,1432.9 L1560.8,1433.2 L1562.0,1434.1 L1564.0,1434.5 L1565.2,1435.5 L1566.0,1435.2 L1568.0,1435.9 L1570.0,1435.8 L1572.0,1435.1 L1573.2,1436.1 L1574.0,1435.7 L1576.2,1436.2 L1580.0,1435.7 L1582.5,1436.1 L1584.0,1435.4 L1586.0,1435.6 L1588.0,1434.7 L1590.0,1434.9 L1592.0,1434.8 L1596.2,1433.1 L1599.8,1428.9 L1601.5,1425.5 L1602.5,1422.5 L1603.5,1418.2 L1605.5,1406.2 L1607.0,1392.9 L1610.2,1356.9 L1611.5,1348.8 L1612.0,1347.1 L1612.2,1347.0 L1612.5,1347.3 L1613.0,1348.9 L1614.0,1355.7 L1617.2,1391.3 L1618.2,1400.0 L1619.2,1406.8 L1620.0,1410.1 L1621.8,1416.0 L1623.2,1423.8 L1624.5,1428.0 L1625.2,1429.6 L1628.0,1433.1 L1630.0,1433.0 L1632.0,1434.6 L1634.0,1435.5 L1636.0,1435.2 L1638.0,1436.0 L1642.0,1435.3 L1643.5,1436.4 L1644.0,1436.2 L1648.0,1436.5 L1650.0,1436.1 L1650.8,1436.6 L1652.0,1435.8 L1653.0,1436.6 L1654.0,1436.0 L1655.0,1436.6 L1656.0,1436.2 L1657.5,1436.7 L1658.0,1436.5 L1660.0,1436.5 L1664.0,1435.8 L1666.0,1436.6 L1667.0,1436.8 L1670.0,1436.2 L1671.5,1436.8 L1672.5,1436.8 L1674.0,1436.4 L1676.0,1436.1 L1678.5,1436.8 L1680.0,1436.5 L1681.5,1436.8 L1684.0,1436.3 L1685.8,1436.8 L1686.2,1436.8 L1688.0,1436.2 L1690.0,1436.1 L1691.0,1436.8 L1692.0,1436.1 L1694.0,1436.7 L1696.0,1435.8 L1697.0,1436.6 L1697.2,1436.7 L1698.0,1436.0 L1699.2,1436.7 L1700.0,1436.2 L1701.8,1436.6 L1702.2,1436.5 L1704.0,1435.0 L1705.8,1436.0 L1707.2,1435.2 L1708.5,1434.1 L1709.0,1433.4 L1709.8,1431.3 L1710.8,1426.1 L1711.8,1413.7 L1713.5,1371.6 L1713.8,1369.4 L1714.0,1369.2 L1714.8,1373.2 L1715.0,1373.1 L1715.5,1368.1 L1716.2,1348.1 L1717.2,1311.4 L1717.8,1300.2 L1718.0,1298.8 L1718.5,1304.9 L1720.0,1357.8 L1720.8,1374.6 L1721.0,1376.8 L1721.2,1377.4 L1722.2,1371.4 L1722.5,1371.7 L1723.0,1378.4 L1724.0,1404.4 L1724.8,1418.8 L1725.8,1428.2 L1726.5,1431.6 L1727.2,1433.5 L1728.8,1435.2 L1730.0,1435.3 L1730.8,1435.9 L1732.0,1435.3 L1734.0,1436.2 L1736.0,1435.7 L1736.8,1436.0 L1738.0,1435.3 L1740.0,1435.1 L1741.2,1434.0 L1743.2,1431.5 L1744.0,1429.8 L1744.5,1427.7 L1745.2,1422.8 L1745.8,1417.7 L1747.2,1395.4 L1747.8,1391.9 L1748.5,1390.0 L1748.8,1388.7 L1749.2,1383.5 L1750.2,1363.9 L1752.0,1318.8 L1752.5,1310.7 L1752.8,1308.5 L1753.0,1307.8 L1753.5,1310.8 L1754.0,1319.2 L1756.2,1379.5 L1757.8,1406.0 L1758.8,1416.8 L1759.8,1423.9 L1761.0,1428.5 L1762.8,1432.3 L1763.5,1433.4 L1767.0,1435.5 L1768.0,1435.6 L1769.0,1436.0 L1770.0,1435.9 L1772.0,1436.3 L1774.0,1435.7 L1775.2,1436.2 L1776.0,1435.8 L1777.2,1436.0 L1779.5,1434.8 L1781.2,1433.5 L1782.2,1431.9 L1783.2,1429.2 L1784.0,1428.1 L1784.2,1428.2 L1784.8,1428.8 L1787.0,1433.2 L1789.5,1435.8 L1792.0,1435.8 L1793.5,1436.5 L1794.0,1436.4 L1797.0,1436.7 L1798.2,1436.7 L1800.0,1436.2 L1804.0,1436.3 L1805.2,1436.8 L1806.0,1436.5 L1808.0,1436.3 L1809.2,1436.9 L1810.0,1436.5 L1811.0,1436.9 L1812.0,1436.6 L1814.0,1436.6 L1815.0,1436.9 L1816.0,1436.5 L1818.0,1436.9 L1820.0,1436.5 L1821.0,1436.9" fill="none" stroke="#ff0000" stroke-width="5.9" stroke-linejoin="bevel"/>
<path d="M574.90,380.0 V712.0" stroke="#0868ac" stroke-width="5.4" fill="none"/>
<path d="M719.55,381.0 V711.0" stroke="#0868ac" stroke-width="5.7" fill="none"/>
<path d="M781.50,371.0 V711.0" stroke="#0868ac" stroke-width="6.8" fill="none"/>
<path d="M801.75,385.0 V703.0" stroke="#0868ac" stroke-width="6.7" fill="none"/>
<path d="M764.00,731.0 V752.0" stroke="#0868ac" stroke-width="4.0" fill="none"/>
<path d="M866.50,734.0 V752.0" stroke="#0868ac" stroke-width="3.0" fill="none"/>
<path d="M550.65,1280.0 V1396.0" stroke="#ff0000" stroke-width="5.3" fill="none"/>
<path d="M702.20,1286.0 V1405.0" stroke="#ff0000" stroke-width="6.4" fill="none"/>
<path d="M748.75,1280.0 V1408.0" stroke="#ff0000" stroke-width="5.7" fill="none"/>
<path d="M755.50,1282.0 V1420.0" stroke="#ff0000" stroke-width="7.8" fill="none"/>
<path d="M762.05,1288.0 V1408.0" stroke="#ff0000" stroke-width="5.3" fill="none"/>
<path d="M1390.75,1389.0 V1421.0" stroke="#ff0000" stroke-width="6.7" fill="none"/>
<path d="M1405.90,1384.0 V1421.0" stroke="#ff0000" stroke-width="6.2" fill="none"/>
<path d="M1463.65,1388.0 V1416.0" stroke="#ff0000" stroke-width="17.3" fill="none"/>
<path d="M1463.50,1378.0 V1390.0" stroke="#ff0000" stroke-width="8.0" fill="none"/>
<path d="M1398.45,1386.0 V1423.0" stroke="#ff0000" stroke-width="8.7" fill="none"/>
<g fill="none" stroke="#c6c6c6" stroke-width="6"><path d="M34.7,1517.5 V29.1 H1826.9 V1505.5"/></g>
<path d="M40.3,1495.2 H1820.7" stroke="#ececec" stroke-width="3" fill="none"/>
<g fill="none" stroke="#000" stroke-width="6.2">
<path d="M37.3,1515 V32.0 H1823.7 V1503"/>
<path d="M34.2,1491.0 H1826.8"/>
<path d="M275.5,1491.0 V1515"/>
<path d="M513.8,1491.0 V1515"/>
<path d="M752.0,1491.0 V1515"/>
<path d="M990.3,1491.0 V1515"/>
<path d="M1228.5,1491.0 V1515"/>
<path d="M1466.7,1491.0 V1515"/>
<path d="M1705.0,1491.0 V1515"/>
<path d="M156.4,1491.0 V1503"/>
<path d="M394.7,1491.0 V1503"/>
<path d="M632.9,1491.0 V1503"/>
<path d="M871.1,1491.0 V1503"/>
<path d="M1109.4,1491.0 V1503"/>
<path d="M1347.6,1491.0 V1503"/>
<path d="M1585.9,1491.0 V1503"/>
</g>
<path d="M39.1,1488.0 V33.8 H1821.9 V1488.0" fill="none" stroke="#2a2a2a" stroke-width="2.6"/>
<g class="ser" font-size="69" fill="#000" text-anchor="middle" stroke="#fff" stroke-width="1.1">
<text x="36.8" y="1586.5">10</text>
<text x="275.5" y="1586.5">9</text>
<text x="513.8" y="1586.5">8</text>
<text x="752.0" y="1586.5">7</text>
<text x="990.3" y="1586.5">6</text>
<text x="1228.5" y="1586.5">5</text>
<text x="1466.7" y="1586.5">4</text>
<text x="1705.0" y="1586.5">3</text>
</g>
<text class="ser" font-size="66.5" x="930.5" y="1661" text-anchor="middle" fill="#000" stroke="#fff" stroke-width="1.1">Chemical shift(ppm)</text>
<text class="ser" font-size="69" x="98" y="112.5" text-anchor="middle" fill="#000" stroke="#fff" stroke-width="1.1">(a)</text>
<text class="ser" font-size="69" x="102.5" y="848" text-anchor="middle" fill="#000" stroke="#fff" stroke-width="1.1">(b)</text>
<g class="ser" font-size="70" fill="#0868ac" text-anchor="middle" stroke="#fff" stroke-width="1.0">
<text x="87.0" y="689.0">a</text>
<text x="175.0" y="474.0">g</text>
<text x="410.0" y="268.5">d</text>
<text x="579.0" y="323.5">c</text>
<text x="726.5" y="296.5">e</text>
<text x="771.0" y="340.5">b</text>
<text x="807.5" y="315.0">f</text>
</g>
<text class="ser" font-size="48" font-weight="bold" fill="#0868ac" x="1463" y="410.5" text-anchor="middle">Water peak</text>
<g class="ser" font-size="70" fill="#ff0000" text-anchor="middle" stroke="#fff" stroke-width="1.0">
<text x="426.0" y="1219.5">h</text>
<text x="544.5" y="1229.0">i</text>
<text x="693.5" y="952.0">g</text>
<text x="712.5" y="1232.0">j</text>
<text x="757.0" y="1229.0">f</text>
<text x="1398.0" y="1331.5">e</text>
<text x="1464.0" y="1339.5">d</text>
<text x="1613.0" y="1321.5">c</text>
<text x="1715.5" y="1269.0">b</text>
<text x="1760.5" y="1273.0">a</text>
</g>
<path d="M1251.6,131.3 L1218.6,195.4 L1251.6,260.0 M1323.4,131.3 L1356.4,195.4 L1323.4,260.0 M1233.5,196.3 L1260.0,245.2 M1341.8,196.3 L1315.4,245.2 M1578.2,131.3 L1544.8,195.2 L1578.2,259.8 M1649.2,131.3 L1682.5,195.2 L1649.2,259.8 M1559.1,196.3 L1586.0,245.5 M1667.7,196.3 L1641.3,245.5" fill="none" stroke="#000" stroke-width="4.3" stroke-linejoin="miter"/>
<path d="M1250.4,131.3 L1324.6,131.3 M1250.4,260.0 L1324.6,260.0 M1260.6,145.3 L1315.0,145.3 M1577.0,131.3 L1650.4,131.3 M1577.0,259.8 L1650.4,259.8 M1586.5,145.6 L1640.1,145.6 M1168.5,195.4 L1219.5,195.4 M1355.5,195.4 L1408.3,195.4 M1492.0,195.2 L1545.8,195.2 M1681.5,195.2 L1733.5,195.2" fill="none" stroke="#000" stroke-width="5.0"/>
<path d="M1443,190.6 H1460.5 M1443,202.8 H1460.5" stroke="#000" fill="none" stroke-width="4.6"/>
<path d="M1256.3,933.6 L1227.8,998.9 L1256.3,1062.8 M1320.4,933.6 L1349.5,998.9 L1320.4,1062.8 M1243.8,999.6 L1266.3,1045.8 M1332.6,999.6 L1311.0,1045.8 M1525.9,933.8 L1497.4,998.9 L1525.9,1062.6 M1590.3,933.8 L1620.0,998.9 L1590.3,1062.6 M1513.9,999.6 L1535.8,1043.5 M1602.4,999.6 L1581.2,1043.5 M1050.5,936.0 L1046.0,907.0 M1114.2,936.0 L1121.0,902.5 M1050.5,936.0 L1072.3,980.0 M1114.2,936.0 L1090.3,980.0 M1114.2,936.0 L1144.8,996.8 M1144.6,998.0 L1157.8,969.5 M1145.6,996.0 L1134.5,1021.0 M1704.8,1000.0 L1734.8,933.0 M1734.2,933.8 L1757.0,979.8 M1799.7,933.8 L1776.0,979.8" fill="none" stroke="#000" stroke-width="5.2" stroke-linejoin="miter"/>
<path d="M1255.1,933.6 L1321.6,933.6 M1255.1,1062.8 L1321.6,1062.8 M1265.4,952.4 L1312.0,952.4 M1524.7,933.8 L1591.5,933.8 M1524.7,1062.6 L1591.5,1062.6 M1535.6,952.3 L1580.9,952.3 M1024.0,937.2 L1050.5,936.0 M1048.0,936.0 L1116.6,936.0 M1143.0,999.3 L1167.8,999.3 M1205.0,999.0 L1228.8,999.0 M1348.5,998.9 L1377.8,998.9 M1463.0,998.8 L1498.4,998.8 M1619.0,998.9 L1643.7,998.9 M1681.0,998.9 L1706.4,998.9 M1731.6,933.8 L1802.2,933.8" fill="none" stroke="#000" stroke-width="6.2"/>
<path d="M1409.5,992.3 H1430.5 M1409.5,1007.5 H1430.5" stroke="#000" fill="none" stroke-width="5.6"/>
<g class="san" font-size="44" fill="#000" stroke="#000" stroke-width="1.25" text-anchor="middle">
<text transform="translate(1118.0,211.6) scale(0.96,1)">H</text>
<text transform="translate(1149.6,211.6) scale(0.87,1)">O</text>
<text transform="translate(1424.8,211.6) scale(0.84,1)">C</text>
<text transform="translate(1475.8,211.6) scale(0.93,1)">N</text>
<text transform="translate(1425.8,250.2) scale(0.96,1)">H</text>
<text transform="translate(1750.3,211.6) scale(0.87,1)">O</text>
<text transform="translate(1782.4,211.6) scale(0.96,1)">H</text>
<text transform="translate(1008.4,953.7) scale(0.96,1)">H</text>
<text transform="translate(1040.8,898.8) scale(0.96,1)">H</text>
<text transform="translate(1127.3,895.6) scale(0.96,1)">H</text>
<text transform="translate(1168.7,961.6) scale(0.96,1)">H</text>
<text transform="translate(1123.8,1059.4) scale(0.96,1)">H</text>
<text transform="translate(1082.3,1016.8) scale(0.87,1)">O</text>
<text transform="translate(1186.3,1016.8) scale(0.87,1)">O</text>
<text transform="translate(1394.4,1015.0) scale(0.93,1)">N</text>
<text transform="translate(1446.5,1015.0) scale(0.84,1)">C</text>
<text transform="translate(1446.5,1054.5) scale(0.96,1)">H</text>
<text transform="translate(1662.8,1015.8) scale(0.87,1)">O</text>
<text transform="translate(1766.5,1015.8) scale(0.87,1)">O</text>
</g>
<text class="san" font-weight="bold" font-size="54" fill="#1686c8" text-anchor="middle" transform="translate(1118.5,156.5) scale(0.78,1)">a</text>
<text class="san" font-weight="bold" font-size="55" fill="#1686c8" text-anchor="middle" transform="translate(1254.7,110.8) scale(0.86,1)">b</text>
<text class="san" font-weight="bold" font-size="51" fill="#1686c8" text-anchor="middle" transform="translate(1330.0,111.5) scale(0.8,1)">c</text>
<text class="san" font-weight="bold" font-size="55" fill="#1686c8" text-anchor="middle" transform="translate(1427.5,300.3) scale(0.84,1)">d</text>
<text class="san" font-weight="bold" font-size="51" fill="#1686c8" text-anchor="middle" transform="translate(1577.0,111.5) scale(0.9,1)">e</text>
<text class="san" font-weight="bold" font-size="55" fill="#1686c8" text-anchor="middle" transform="translate(1652.3,111.5) scale(1,1)">f</text>
<text class="san" font-weight="bold" font-size="55" fill="#1686c8" text-anchor="middle" transform="translate(1782.0,155.5) scale(0.86,1)">g</text>
<text class="san" font-weight="bold" font-size="61" fill="#ff0000" text-anchor="middle" transform="translate(1006.8,1002.0) scale(0.75,1)">a</text>
<text class="san" font-weight="bold" font-size="61" fill="#ff0000" text-anchor="middle" transform="translate(1043.2,842.5) scale(0.75,1)">b</text>
<text class="san" font-weight="bold" font-size="60" fill="#ff0000" text-anchor="middle" transform="translate(1129.0,837.0) scale(0.7,1)">c</text>
<text class="san" font-weight="bold" font-size="61" fill="#ff0000" text-anchor="middle" transform="translate(1170.5,900.5) scale(0.77,1)">d</text>
<text class="san" font-weight="bold" font-size="60" fill="#ff0000" text-anchor="middle" transform="translate(1123.8,1111.0) scale(0.88,1)">e</text>
<text class="san" font-weight="bold" font-size="63" fill="#ff0000" text-anchor="middle" transform="translate(1260.3,900.5) scale(0.98,1)">f</text>
<text class="san" font-weight="bold" font-size="60" fill="#ff0000" text-anchor="middle" transform="translate(1323.3,900.5) scale(0.82,1)">g</text>
<text class="san" font-weight="bold" font-size="62" fill="#ff0000" text-anchor="middle" transform="translate(1445.2,1111.3) scale(0.78,1)">h</text>
<text class="san" font-weight="bold" font-size="61" fill="#ff0000" text-anchor="middle" transform="translate(1524.1,900.0) scale(0.9,1)">i</text>
<text class="san" font-weight="bold" font-size="61" fill="#ff0000" text-anchor="middle" transform="translate(1593.5,900.0) scale(1.05,1)">j</text>
</g></svg></body></html>
